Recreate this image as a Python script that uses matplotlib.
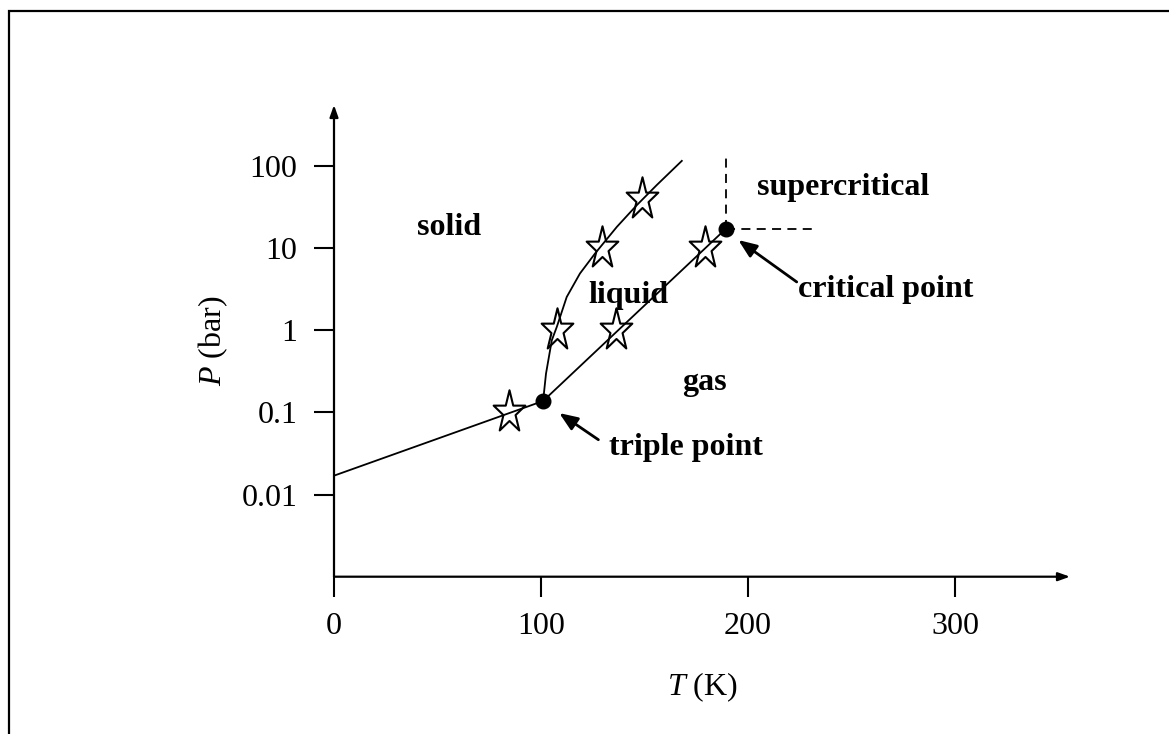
import numpy as np
import matplotlib
matplotlib.use("Agg")
import matplotlib.pyplot as plt
from matplotlib.path import Path
from matplotlib.patches import Rectangle

plt.rcParams['font.family'] = ['Liberation Serif', 'DejaVu Serif']
plt.rcParams['mathtext.fontset'] = 'custom'
plt.rcParams['mathtext.rm'] = 'Liberation Serif'
plt.rcParams['mathtext.it'] = 'Liberation Serif:italic'

# ---------------- data ----------------
x_ticks = [0, 100, 200, 300]
y_ticks = [0.01, 0.1, 1, 10, 100]
y_tick_labels = ["0.01", "0.1", "1", "10", "100"]

sub_T = [0, 101]                 # sublimation line
sub_P = [0.017, 0.138]

vap_T = [101, 189.4]             # vaporisation line
vap_P = [0.138, 17.4]

melt_T = [101, 102.4, 105.2, 107.6, 112.4, 118.8, 126.1, 136.6, 146.3, 155.9, 168.0]
melt_P = [0.138, 0.297, 0.757, 1.10, 2.55, 4.93, 8.65, 18.2, 33.6, 58.9, 116]

star_T = [84.5, 107.6, 129.3, 148.6, 136.2, 179.2]
star_P = [0.1, 1.0, 10, 40, 1.0, 10]

triple_T, triple_P = 101, 0.138
crit_T, crit_P = 189.4, 17.4
crit_vline_P = [17.4, 143]
crit_hline_T = [189.4, 233.2]

# ---------------- figure ----------------
W, H = 1169, 734
fig = plt.figure(figsize=(W / 100, H / 100), dpi=100)

# outer frame
fig.patches.append(Rectangle((9 / W, -0.2), 2.0, (1 - 11 / H) + 0.2,
                             transform=fig.transFigure, fill=False,
                             edgecolor='black', linewidth=1.6))

ax_left, ax_right = 334 / W, 1070 / W
ax_bottom, ax_top = (H - 576.7) / H, (H - 105) / H
ax = fig.add_axes([ax_left, ax_bottom, ax_right - ax_left, ax_top - ax_bottom])
ax.set_yscale('log')
ax.set_xlim(0, 355.5)
ax.set_ylim(1e-3, 10 ** 2.745)
for s in ax.spines.values():
    s.set_visible(False)

# axis lines with arrows
arr = dict(arrowstyle='-|>,head_length=0.7,head_width=0.25', lw=1.6,
           color='black', mutation_scale=10, shrinkA=0, shrinkB=0)
ax.annotate('', xy=(1, 0), xytext=(0, 0), xycoords='axes fraction',
            textcoords='axes fraction', arrowprops=arr, annotation_clip=False)
ax.annotate('', xy=(0, 1), xytext=(0, 0), xycoords='axes fraction',
            textcoords='axes fraction', arrowprops=arr, annotation_clip=False)

ax.set_xticks(x_ticks)
ax.set_xticklabels([str(v) for v in x_ticks])
ax.set_yticks(y_ticks)
ax.set_yticklabels(y_tick_labels)
ax.yaxis.set_minor_locator(matplotlib.ticker.NullLocator())
ax.tick_params(axis='both', direction='out', length=14.4, width=1.5,
               labelsize=23, color='black')
ax.tick_params(axis='x', pad=11)
ax.tick_params(axis='y', pad=12)

ax.text(-0.1644, 0.5, r'$P$ (bar)', transform=ax.transAxes, rotation=90,
        ha='center', va='center', fontsize=23)
ax.text(0.5, -0.235, r'$T$ (K)', transform=ax.transAxes,
        ha='center', va='center', fontsize=23)

# phase boundaries
lw = 1.3
ax.plot(sub_T, sub_P, color='black', lw=lw)
ax.plot(vap_T, vap_P, color='black', lw=lw)
ax.plot(melt_T, melt_P, color='black', lw=lw)
ax.plot([crit_T, crit_T], crit_vline_P, color='black', lw=lw, linestyle=(0, (5, 3.5)))
ax.plot(crit_hline_T, [crit_P, crit_P], color='black', lw=lw, linestyle=(0, (5, 3.5)))

# star marker (slightly narrow 5-point star)
ang = np.pi / 2 + np.arange(10) * np.pi / 5
rad = np.where(np.arange(10) % 2 == 0, 1.0, 0.382)
verts = np.column_stack([0.75 * rad * np.cos(ang), rad * np.sin(ang)])
verts = np.vstack([verts, verts[:1]])
codes = [Path.MOVETO] + [Path.LINETO] * 9 + [Path.CLOSEPOLY]
star = Path(verts, codes)
ax.plot(star_T, star_P, linestyle='none', marker=star, markersize=32,
        markerfacecolor='none', markeredgecolor='black', markeredgewidth=1.5)

ax.plot([triple_T, crit_T], [triple_P, crit_P], linestyle='none', marker='o',
        markersize=10.5, color='black')

# labels
bold = dict(fontsize=23, fontweight='bold', ha='left', va='baseline')
ax.text(40.0, 14.4, 'solid', **bold)
ax.text(122.9, 2.18, 'liquid', **bold)
ax.text(168.0, 0.186, 'gas', **bold)
ax.text(204.2, 44.4, 'supercritical', **bold)
ax.text(224.2, 2.55, 'critical point', **bold)
ax.text(133.0, 0.030, 'triple point', **bold)

parr = dict(arrowstyle='-|>,head_length=0.55,head_width=0.22', lw=2.0,
            color='black', mutation_scale=20, shrinkA=0, shrinkB=0)
ax.annotate('', xy=(195.3, 12.6), xytext=(223.5, 3.89), arrowprops=parr)
ax.annotate('', xy=(108.8, 0.0984), xytext=(127.7, 0.0466), arrowprops=parr)

fig.savefig('out.png', dpi=100)
